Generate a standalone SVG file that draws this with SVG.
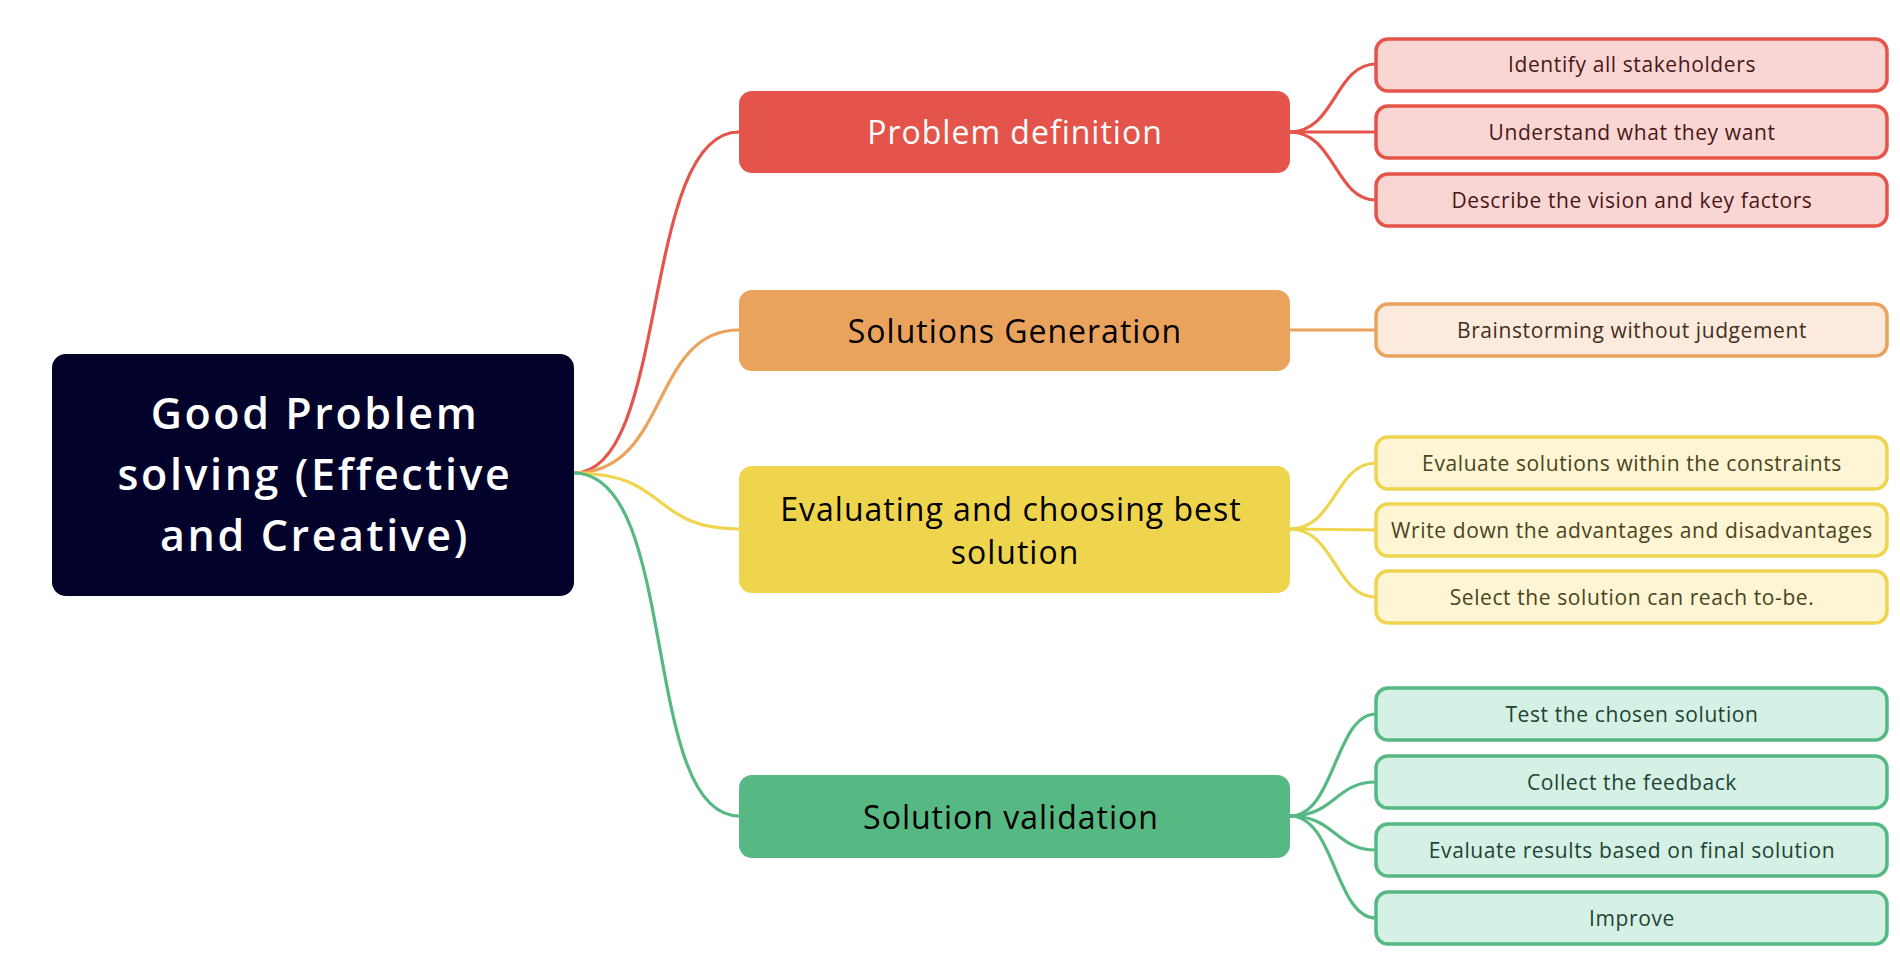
<svg xmlns="http://www.w3.org/2000/svg" width="1900" height="956" viewBox="0 0 1900 956">
<style>
text{font-family:"Open Sans","Noto Sans",sans-serif;text-anchor:middle;dominant-baseline:central}
.root text{fill:#fff;font-size:43px;font-weight:600;letter-spacing:2.6px}
.main text{font-size:32px;font-weight:500;letter-spacing:1px}
.leaf text{font-size:21px;font-weight:400;letter-spacing:0.6px}
.leaf rect{stroke-width:3.5}
.conn path{fill:none;stroke-width:3.2;stroke-linecap:round}
.r{stroke:#E5544A}.o{stroke:#EAA35D}.y{stroke:#EED54D}.g{stroke:#56B882}
</style>
<rect width="1900" height="956" fill="#fff"/>
<g id="connectors" class="conn">
<path class="r" d="M574,473 C670,473 640,132 739,132"/>
<path class="o" d="M574,473 C670,473 650,330 739,330"/>
<path class="y" d="M574,473 C670,473 650,529 739,529"/>
<path class="g" d="M574,473 C680,473 640,816 739,816"/>
<path class="r" d="M1290,132 C1335,132 1335,64 1376,64"/>
<path class="r" d="M1290,132 L1376,132"/>
<path class="r" d="M1290,132 C1335,132 1335,200 1376,200"/>
<path class="o" d="M1290,330 L1376,330"/>
<path class="y" d="M1290,529 C1335,529 1335,463 1376,463"/>
<path class="y" d="M1290,529 L1376,530"/>
<path class="y" d="M1290,529 C1335,529 1335,597 1376,597"/>
<path class="g" d="M1290,816 C1335,816 1335,714 1376,714"/>
<path class="g" d="M1290,816 C1335,816 1335,782 1376,782"/>
<path class="g" d="M1290,816 C1335,816 1335,850 1376,850"/>
<path class="g" d="M1290,816 C1335,816 1335,918 1376,918"/>
</g>
<g id="root" class="root">
<rect x="52" y="354" width="522" height="242" rx="14" fill="#02022A"/>
<text x="315" y="412">Good Problem</text>
<text x="315" y="473">solving (Effective</text>
<text x="315" y="534">and Creative)</text>
</g>
<g id="problem-definition" class="main">
<rect x="739" y="91" width="551" height="82" rx="13" fill="#E5544A"/>
<text x="1015" y="131" fill="#fff">Problem definition</text>
</g>
<g id="solutions-generation" class="main">
<rect x="739" y="290" width="551" height="81" rx="13" fill="#EAA35D"/>
<text x="1015" y="330" fill="#000">Solutions Generation</text>
</g>
<g id="evaluating" class="main">
<rect x="739" y="466" width="551" height="127" rx="13" fill="#EED54D"/>
<text x="1011" y="508" fill="#000">Evaluating and choosing best</text>
<text x="1015" y="551" fill="#000">solution</text>
</g>
<g id="solution-validation" class="main">
<rect x="739" y="775" width="551" height="83" rx="13" fill="#56B882"/>
<text x="1011" y="816" fill="#000">Solution validation</text>
</g>
<g id="leaf-stakeholders" class="leaf">
<rect x="1376" y="39" width="511" height="52" rx="12" fill="#F9D6D4" stroke="#E5544A"/>
<text x="1632" y="64" fill="#4A1616">Identify all stakeholders</text>
</g>
<g id="leaf-understand" class="leaf">
<rect x="1376" y="106" width="511" height="52" rx="12" fill="#F9D6D4" stroke="#E5544A"/>
<text x="1632" y="132" fill="#4A1616">Understand what they want</text>
</g>
<g id="leaf-describe" class="leaf">
<rect x="1376" y="174" width="511" height="52" rx="12" fill="#F9D6D4" stroke="#E5544A"/>
<text x="1632" y="200" fill="#4A1616">Describe the vision and key factors</text>
</g>
<g id="leaf-brainstorming" class="leaf">
<rect x="1376" y="304" width="511" height="52" rx="12" fill="#FCEBDD" stroke="#EAA35D"/>
<text x="1632" y="330" fill="#43301E">Brainstorming without judgement</text>
</g>
<g id="leaf-evaluate-constraints" class="leaf">
<rect x="1376" y="437" width="511" height="52" rx="12" fill="#FDF5D3" stroke="#EED54D"/>
<text x="1632" y="463" fill="#4A4420">Evaluate solutions within the constraints</text>
</g>
<g id="leaf-advantages" class="leaf">
<rect x="1376" y="504" width="511" height="52" rx="12" fill="#FDF5D3" stroke="#EED54D"/>
<text x="1632" y="530" fill="#4A4420">Write down the advantages and disadvantages</text>
</g>
<g id="leaf-select" class="leaf">
<rect x="1376" y="571" width="511" height="52" rx="12" fill="#FDF5D3" stroke="#EED54D"/>
<text x="1632" y="597" fill="#4A4420">Select the solution can reach to-be.</text>
</g>
<g id="leaf-test" class="leaf">
<rect x="1376" y="688" width="511" height="52" rx="12" fill="#D5F0E4" stroke="#56B882"/>
<text x="1632" y="714" fill="#1E4433">Test the chosen solution</text>
</g>
<g id="leaf-feedback" class="leaf">
<rect x="1376" y="756" width="511" height="52" rx="12" fill="#D5F0E4" stroke="#56B882"/>
<text x="1632" y="782" fill="#1E4433">Collect the feedback</text>
</g>
<g id="leaf-evaluate-results" class="leaf">
<rect x="1376" y="824" width="511" height="52" rx="12" fill="#D5F0E4" stroke="#56B882"/>
<text x="1632" y="850" fill="#1E4433">Evaluate results based on final solution</text>
</g>
<g id="leaf-improve" class="leaf">
<rect x="1376" y="892" width="511" height="52" rx="12" fill="#D5F0E4" stroke="#56B882"/>
<text x="1632" y="918" fill="#1E4433">Improve</text>
</g>
</svg>
